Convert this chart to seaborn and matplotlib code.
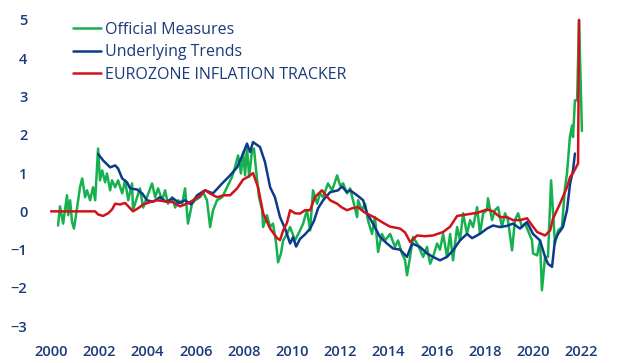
import pandas as pd
import matplotlib
matplotlib.use('Agg')
import matplotlib.pyplot as plt
import seaborn as sns

# Official Measures (green)
green_year = [2000.29, 2000.37, 2000.50, 2000.66, 2000.71, 2000.79, 2000.87, 2000.95, 2001.08, 2001.20,
              2001.29, 2001.41, 2001.49, 2001.62, 2001.74, 2001.83, 2001.95, 2002.03, 2002.12, 2002.24,
              2002.32, 2002.45, 2002.53, 2002.66, 2002.78, 2002.95, 2003.07, 2003.20, 2003.36, 2003.40,
              2003.57, 2003.69, 2003.82, 2003.98, 2004.19, 2004.32, 2004.44, 2004.61, 2004.73, 2004.85,
              2005.02, 2005.15, 2005.27, 2005.44, 2005.56, 2005.68, 2005.85, 2005.98, 2006.18, 2006.31,
              2006.47, 2006.60, 2006.72, 2006.89, 2007.10, 2007.30, 2007.51, 2007.63, 2007.76, 2007.88,
              2007.97, 2008.05, 2008.13, 2008.22, 2008.34, 2008.42, 2008.55, 2008.63, 2008.76, 2008.80,
              2008.96, 2009.09, 2009.21, 2009.34, 2009.42, 2009.54, 2009.63, 2009.79, 2009.92, 2010.12,
              2010.33, 2010.46, 2010.62, 2010.75, 2010.87, 2011.04, 2011.16, 2011.29, 2011.49, 2011.66,
              2011.78, 2011.87, 2011.99, 2012.12, 2012.28, 2012.41, 2012.53, 2012.70, 2012.74, 2012.90,
              2013.03, 2013.15, 2013.32, 2013.44, 2013.57, 2013.73, 2013.86, 2014.07, 2014.27, 2014.40,
              2014.56, 2014.69, 2014.77, 2014.90, 2015.02, 2015.19, 2015.31, 2015.44, 2015.60, 2015.73,
              2015.85, 2016.02, 2016.14, 2016.27, 2016.43, 2016.56, 2016.68, 2016.85, 2016.97, 2017.10,
              2017.26, 2017.39, 2017.51, 2017.68, 2017.80, 2017.93, 2018.09, 2018.13, 2018.30, 2018.42,
              2018.55, 2018.71, 2018.84, 2018.96, 2019.13, 2019.25, 2019.38, 2019.54, 2019.67, 2019.79,
              2019.96, 2020.00, 2020.17, 2020.29, 2020.37, 2020.50, 2020.62, 2020.75, 2020.91, 2021.04,
              2021.20, 2021.33, 2021.41, 2021.53, 2021.62, 2021.66, 2021.74, 2021.83, 2021.91, 2022.03]
green_val = [-0.37, 0.13, -0.32, 0.42, -0.10, 0.29, -0.28, -0.45, 0.10, 0.63,
             0.86, 0.37, 0.55, 0.29, 0.63, 0.29, 1.64, 0.81, 1.07, 0.76,
             0.99, 0.55, 0.81, 0.63, 0.81, 0.47, 0.81, 0.29, 0.73, 0.03,
             0.37, 0.60, 0.10, 0.37, 0.73, 0.37, 0.60, 0.29, 0.55, 0.20,
             0.37, 0.10, 0.29, 0.20, 0.60, -0.32, 0.20, 0.29, 0.37, 0.50,
             0.29, -0.41, 0.03, 0.29, 0.37, 0.63, 0.90, 1.15, 1.46, 0.99,
             1.55, 0.94, 1.68, 0.90, 1.60, 1.64, 0.81, 0.37, 0.03, -0.41,
             -0.10, -0.41, -0.32, -0.84, -1.33, -1.10, -0.76, -0.59, -0.41, -0.76,
             -0.50, -0.32, 0.03, -0.50, 0.55, 0.20, 0.47, 0.37, 0.73, 0.55,
             0.76, 0.94, 0.68, 0.73, 0.47, 0.60, 0.29, -0.15, 0.29, 0.03,
             0.20, -0.23, -0.59, -0.15, -1.06, -0.59, -0.76, -0.59, -0.93, -0.76,
             -1.10, -1.28, -1.67, -1.19, -0.67, -0.84, -1.00, -1.19, -0.93, -1.37,
             -1.19, -0.84, -1.00, -0.59, -1.19, -0.59, -1.28, -0.41, -0.76, -0.05,
             -0.59, -0.23, -0.41, 0.11, -0.59, -0.05, 0.03, 0.34, -0.23, 0.03,
             0.11, -0.41, -0.05, -0.23, -1.02, -0.23, -0.05, -0.41, -0.32, -0.50,
             -0.76, -1.10, -1.15, -0.76, -2.06, -1.19, -1.19, 0.81, -0.84, -0.50,
             -0.41, 0.63, 0.99, 1.94, 2.24, 1.94, 2.90, 2.90, 5.00, 2.10]

# Underlying Trends (blue)
blue_year = [2001.95, 2002.16, 2002.45, 2002.66, 2002.78, 2002.95, 2003.15, 2003.28, 2003.57, 2003.78,
             2003.98, 2004.23, 2004.52, 2004.77, 2005.06, 2005.31, 2005.56, 2005.81, 2006.06, 2006.39,
             2006.72, 2007.10, 2007.43, 2007.72, 2007.97, 2008.13, 2008.26, 2008.38, 2008.67, 2008.88,
             2009.09, 2009.29, 2009.50, 2009.71, 2009.92, 2010.04, 2010.17, 2010.33, 2010.54, 2010.75,
             2010.91, 2011.08, 2011.29, 2011.58, 2011.91, 2012.07, 2012.28, 2012.41, 2012.70, 2012.95,
             2013.11, 2013.36, 2013.65, 2013.94, 2014.19, 2014.48, 2014.77, 2014.98, 2015.31, 2015.60,
             2015.85, 2016.14, 2016.43, 2016.68, 2016.97, 2017.26, 2017.47, 2017.68, 2017.88, 2018.09,
             2018.34, 2018.63, 2018.92, 2019.17, 2019.46, 2019.75, 2020.00, 2020.29, 2020.50, 2020.62,
             2020.79, 2020.91, 2021.04, 2021.24, 2021.41, 2021.54, 2021.66, 2021.74]
blue_val = [1.50, 1.33, 1.15, 1.20, 1.12, 0.86, 0.76, 0.60, 0.57, 0.47,
            0.29, 0.25, 0.37, 0.25, 0.34, 0.22, 0.29, 0.18, 0.42, 0.55,
            0.47, 0.73, 0.94, 1.15, 1.51, 1.77, 1.55, 1.81, 1.68, 1.28,
            0.63, 0.37, -0.15, -0.45, -0.84, -0.68, -0.92, -0.72, -0.60, -0.45,
            -0.25, 0.08, 0.29, 0.50, 0.55, 0.65, 0.50, 0.55, 0.42, 0.29,
            -0.05, -0.32, -0.67, -0.84, -0.97, -1.00, -1.19, -0.84, -0.93, -1.10,
            -1.19, -1.28, -1.19, -1.02, -0.76, -0.59, -0.70, -0.63, -0.55, -0.45,
            -0.37, -0.41, -0.38, -0.32, -0.45, -0.28, -0.59, -0.76, -1.19, -1.37,
            -1.45, -0.76, -0.59, -0.41, 0.03, 0.73, 1.07, 1.51]

# EUROZONE INFLATION TRACKER (red)
red_year = [2000.00, 2001.83, 2001.95, 2002.16, 2002.37, 2002.53, 2002.66, 2002.86, 2003.07, 2003.28,
            2003.40, 2003.61, 2003.82, 2004.11, 2004.40, 2004.73, 2005.06, 2005.35, 2005.64, 2005.89,
            2006.18, 2006.39, 2006.64, 2006.89, 2007.18, 2007.43, 2007.72, 2007.97, 2008.17, 2008.38,
            2008.59, 2008.80, 2009.09, 2009.38, 2009.50, 2009.63, 2009.79, 2009.92, 2010.12, 2010.33,
            2010.54, 2010.75, 2010.95, 2011.24, 2011.37, 2011.58, 2011.87, 2012.07, 2012.28, 2012.49,
            2012.74, 2012.99, 2013.24, 2013.53, 2013.78, 2014.07, 2014.48, 2014.69, 2014.90, 2015.19,
            2015.52, 2015.85, 2016.27, 2016.56, 2016.85, 2017.26, 2017.68, 2018.09, 2018.34, 2018.63,
            2018.92, 2019.17, 2019.46, 2019.75, 2020.00, 2020.17, 2020.50, 2020.71, 2020.83, 2021.12,
            2021.41, 2021.54, 2021.66, 2021.87, 2021.91]
red_val = [0.00, 0.00, -0.08, -0.12, -0.05, 0.05, 0.20, 0.18, 0.22, 0.08,
           0.00, 0.08, 0.18, 0.24, 0.29, 0.26, 0.24, 0.13, 0.20, 0.29,
           0.40, 0.55, 0.45, 0.37, 0.42, 0.42, 0.60, 0.83, 0.90, 1.00,
           0.63, -0.05, -0.45, -0.70, -0.75, -0.50, -0.30, 0.03, -0.05, -0.06,
           0.03, 0.03, 0.37, 0.55, 0.45, 0.29, 0.20, 0.10, 0.03, 0.08,
           0.11, -0.02, -0.10, -0.20, -0.30, -0.40, -0.45, -0.55, -0.80, -0.63,
           -0.65, -0.63, -0.54, -0.40, -0.12, -0.08, -0.04, 0.05, 0.00, -0.15,
           -0.15, -0.23, -0.23, -0.18, -0.40, -0.54, -0.63, -0.50, -0.19, 0.20,
           0.63, 0.90, 1.00, 1.25, 5.00]

year_ticks = list(range(2000, 2023, 2))
value_ticks = [-3, -2, -1, 0, 1, 2, 3, 4, 5]

text_color = '#1b3a7a'

sns.set_style('white')
plt.rcParams['font.family'] = ['Open Sans', 'DejaVu Sans']

fig = plt.figure(figsize=(6.2, 3.63), dpi=100)
ax = fig.add_axes([40 / 620, 33 / 363, 560 / 620, 315 / 363])

sns.lineplot(x=green_year, y=green_val, color='#17b04f', linewidth=1.8, label='Official Measures', ax=ax)
sns.lineplot(x=blue_year, y=blue_val, color='#0d3b8c', linewidth=1.8, label='Underlying Trends', ax=ax)
sns.lineplot(x=red_year, y=red_val, color='#d2121b', linewidth=1.8, label='EUROZONE INFLATION TRACKER', ax=ax)

ax.set_xlim(1999.54, 2022.78)
ax.set_ylim(-3.1, 5.13)
ax.set_xticks(year_ticks)
ax.set_yticks(value_ticks)
ax.tick_params(axis='both', length=0, labelsize=10.5, labelcolor=text_color)
ax.tick_params(axis='x', pad=11)
ax.tick_params(axis='y', pad=9)
for lbl in ax.get_xticklabels() + ax.get_yticklabels():
    lbl.set_fontweight('semibold')
sns.despine(ax=ax, left=True, bottom=True)

leg = ax.legend(loc='upper left', bbox_to_anchor=(0.034, 1.025), frameon=False,
                handlelength=1.7, handletextpad=0.25, labelspacing=0.42, fontsize=11.5)
for t in leg.get_texts():
    t.set_color(text_color)

fig.savefig('out.png', dpi=100)
